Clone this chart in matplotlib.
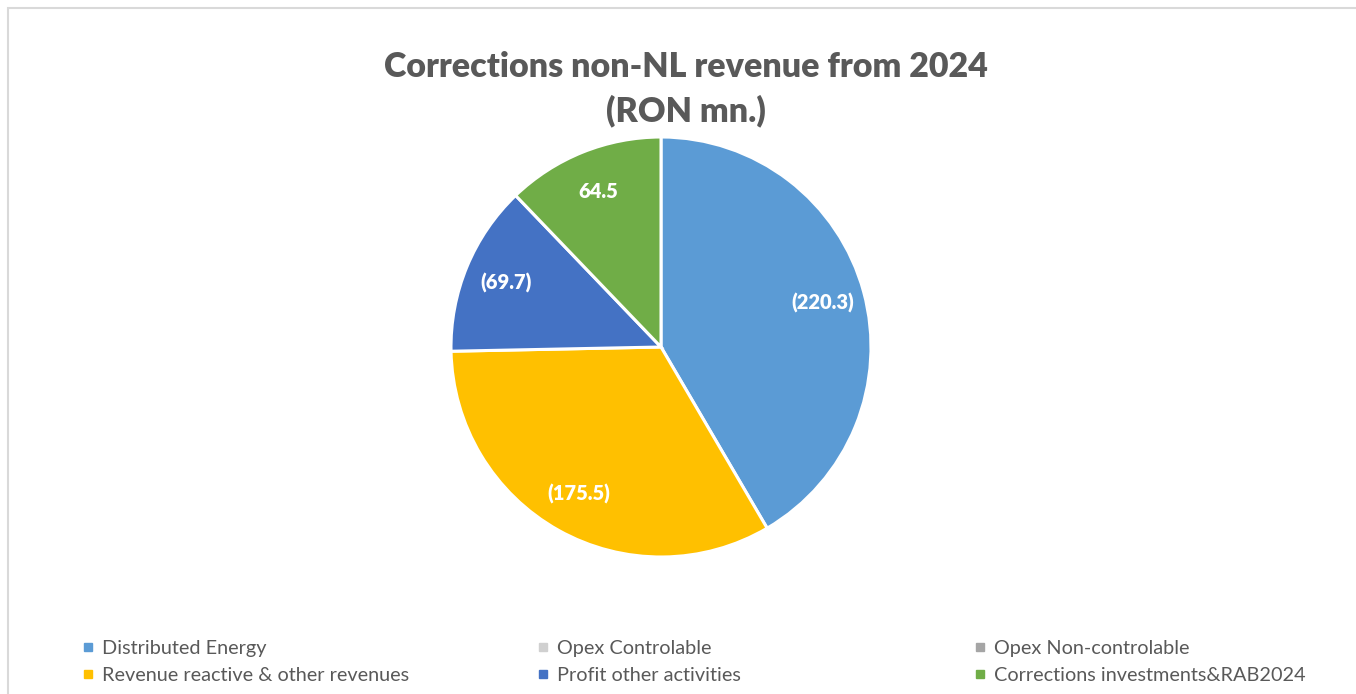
import matplotlib
matplotlib.use("Agg")
import matplotlib.pyplot as plt
from matplotlib.patches import Rectangle
from matplotlib.lines import Line2D
import numpy as np

plt.rcParams['font.family'] = ['Lato', 'DejaVu Sans']

categories = ["Distributed Energy", "Opex Controlable", "Opex Non-controlable",
              "Revenue reactive & other revenues", "Profit other activities",
              "Corrections investments&RAB2024"]
values = [-220.3, 0.0, 0.0, -175.5, -69.7, 64.5]
colors = ["#5B9BD5", "#D0D0D0", "#A5A5A5", "#FFC000", "#4472C4", "#70AD47"]
title = "Corrections non-NL revenue from 2024\n(RON mn.)"

W, H = 1356, 694
fig = plt.figure(figsize=(W / 100, H / 100), dpi=100)
fig.patch.set_facecolor("white")

# outer border (top/left visible)
fig.patches.append(Rectangle((8 / W, -0.05), 1.2, (H - 8) / H + 0.05, transform=fig.transFigure,
                             fill=False, edgecolor="#D9D9D9", linewidth=1.5))

cx, cy, r = 661, 347, 210
ax = fig.add_axes([(cx - r) / W, (H - cy - r) / H, 2 * r / W, 2 * r / H])
nz = [(c, abs(v), v, col) for c, v, col in zip(categories, values, colors) if v != 0]
wedges, _ = ax.pie([t[1] for t in nz], colors=[t[3] for t in nz], startangle=90,
                   counterclock=False, radius=1.0,
                   wedgeprops=dict(edgecolor="white", linewidth=2.2))
for w, t in zip(wedges, nz):
    ang = np.deg2rad((w.theta1 + w.theta2) / 2)
    lab = f"({abs(t[2]):.1f})" if t[2] < 0 else f"{t[2]:.1f}"
    ax.text(0.8 * np.cos(ang), 0.8 * np.sin(ang), lab, ha="center", va="center",
            color="white", fontsize=14.5, fontweight="heavy")
ax.set_xlim(-1, 1)
ax.set_ylim(-1, 1)
ax.set_aspect("equal")
ax.axis("off")

fig.text(cx / W + 25 / W, 1 - 89 / H, title, ha="center", va="center", fontsize=24.5,
         fontweight="heavy", color="#595959", linespacing=1.45)

handles = [Line2D([], [], marker="s", linestyle="none", markersize=6,
                  markerfacecolor=c, markeredgecolor=c) for c in colors]
cols = [(0, 3), (1, 4), (2, 5)]
xs = [83, 538, 975]
for (i, j), x in zip(cols, xs):
    fig.legend([handles[i], handles[j]], [categories[i], categories[j]],
               loc="center left", bbox_to_anchor=(x / W, 1 - 662 / H),
               frameon=False, fontsize=14.3, labelcolor="#595959",
               handlelength=0.55, handletextpad=0.4, labelspacing=0.5,
               borderpad=0, borderaxespad=0)

fig.savefig("out.png", dpi=100, facecolor="white")
